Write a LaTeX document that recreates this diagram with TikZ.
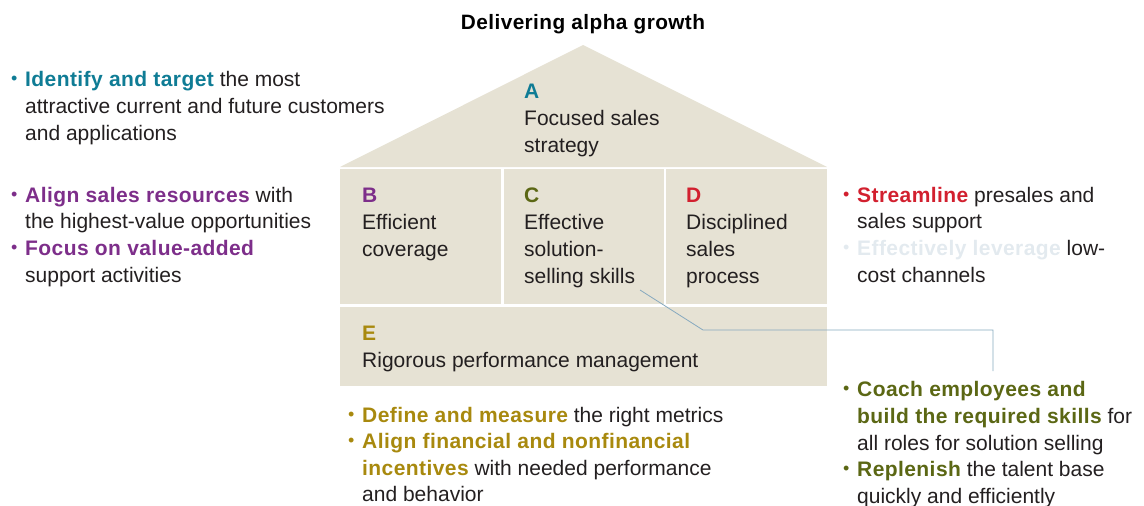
\documentclass[tikz,border=0pt]{standalone}
\usepackage{fontspec}
\setmainfont[BoldFeatures={LetterSpace=2.0}]{Liberation Sans}
\definecolor{ink}{HTML}{231F20}
\definecolor{teal}{HTML}{0F7C95}
\definecolor{purp}{HTML}{7D2E8A}
\definecolor{olive}{HTML}{5B6714}
\definecolor{redc}{HTML}{D2202F}
\definecolor{gold}{HTML}{A8890E}
\definecolor{faint}{HTML}{E3EAEF}
\definecolor{conn}{HTML}{86A9BF}
\definecolor{house}{HTML}{E6E2D4}
\begin{document}
\begin{tikzpicture}[x=1pt,y=-1pt,
  txt/.style={anchor=base west, inner sep=0pt, font=\fontsize{21}{27}\selectfont, text=ink},
  bul/.style={anchor=base west, inner sep=0pt, font=\fontsize{18}{18}\selectfont, yshift=1.5pt},
  box/.style={fill=house, draw=none, anchor=north west, inner sep=0pt},
  connline/.style={draw=conn, line width=0.8pt}]
\useasboundingbox (0,0) rectangle (1144,506);
% house
\fill[house] (340,167) -- (583,45) -- (827,167) -- cycle;
\node[box, minimum width=161pt, minimum height=135pt] (B) at (340,169) {};
\node[box, minimum width=160pt, minimum height=135pt] (C) at (504,169) {};
\node[box, minimum width=161pt, minimum height=135pt] (D) at (666,169) {};
\node[box, minimum width=487pt, minimum height=79pt] (E) at (340,307) {};
% title
\node[anchor=base, inner sep=0pt, font=\fontsize{20.8}{27}\selectfont\bfseries, text=black] (title) at (583,29) {Delivering alpha growth};
% house texts
\node[txt, text=teal, font=\fontsize{21}{27}\selectfont\bfseries] (Al) at (524,98) {A};
\node[txt] (A1) at (524,125) {Focused sales};
\node[txt] (A2) at (524,152) {strategy};
\node[txt, text=purp, font=\fontsize{21}{27}\selectfont\bfseries] (Bl) at (362,202) {B};
\node[txt] (B1) at (362,229) {Efficient};
\node[txt] (B2) at (362,256) {coverage};
\node[txt, text=olive, font=\fontsize{21}{27}\selectfont\bfseries] (Cl) at (524,202) {C};
\node[txt] (C1) at (524,229) {Effective};
\node[txt] (C2) at (524,256) {solution-};
\node[txt] (C3) at (524,283) {selling skills};
\node[txt, text=redc, font=\fontsize{21}{27}\selectfont\bfseries] (Dl) at (686,202) {D};
\node[txt] (D1) at (686,229) {Disciplined};
\node[txt] (D2) at (686,256) {sales};
\node[txt] (D3) at (686,283) {process};
\node[txt, text=gold, font=\fontsize{21}{27}\selectfont\bfseries] (El) at (362,340) {E};
\node[txt] (E1) at (362,367) {Rigorous performance management};
% left block A
\node[bul, text=teal] (la0) at (11,86) {•};
\node[txt] (la1) at (25,86) {\textcolor{teal}{\bfseries Identify and target} the most};
\node[txt] (la2) at (25,113) {attractive current and future customers};
\node[txt] (la3) at (25,140) {and applications};
% left block B
\node[bul, text=purp] (lb0) at (11,202) {•};
\node[txt] (lb1) at (25,202) {\textcolor{purp}{\bfseries Align sales resources} with};
\node[txt] (lb2) at (25,228) {the highest-value opportunities};
\node[bul, text=purp] (lb3) at (11,255) {•};
\node[txt] (lb4) at (25,255) {\textcolor{purp}{\bfseries Focus on value-added}};
\node[txt] (lb5) at (25,282) {support activities};
% right block D
\node[bul, text=redc] (rd0) at (843,202) {•};
\node[txt] (rd1) at (857,202) {\textcolor{redc}{\bfseries Streamline} presales and};
\node[txt] (rd2) at (857,228) {sales support};
\node[bul, text=faint] (rd3) at (843,255) {•};
\node[txt] (rd4) at (857,255) {\textcolor{faint}{\bfseries Effectively leverage} low-};
\node[txt] (rd5) at (857,282) {cost channels};
% bottom E block
\node[bul, text=gold] (be0) at (348,422) {•};
\node[txt] (be1) at (362,422) {\textcolor{gold}{\bfseries Define and measure} the right metrics};
\node[bul, text=gold] (be2) at (348,448) {•};
\node[txt] (be3) at (362,448) {\textcolor{gold}{\bfseries Align financial and nonfinancial}};
\node[txt] (be4) at (362,475) {\textcolor{gold}{\bfseries incentives} with needed performance};
\node[txt] (be5) at (362,501) {and behavior};
% right C block
\node[bul, text=olive] (rc0) at (843,396) {•};
\node[txt] (rc1) at (857,396) {\textcolor{olive}{\bfseries Coach employees and}};
\node[txt] (rc2) at (857,423) {\textcolor{olive}{\bfseries build the required skills} for};
\node[txt] (rc3) at (857,450) {all roles for solution selling};
\node[bul, text=olive] (rc4) at (843,476) {•};
\node[txt] (rc5) at (857,476) {\textcolor{olive}{\bfseries Replenish} the talent base};
\node[txt] (rc6) at (857,503) {quickly and efficiently};
% connector
\coordinate (k1) at (640,290);
\coordinate (k2) at (703,330);
\coordinate (k3) at (993,330);
\coordinate (k4) at (993,371);
\draw[connline] (k1) -- (k2) -- (k3) -- (k4);
\end{tikzpicture}
\end{document}
